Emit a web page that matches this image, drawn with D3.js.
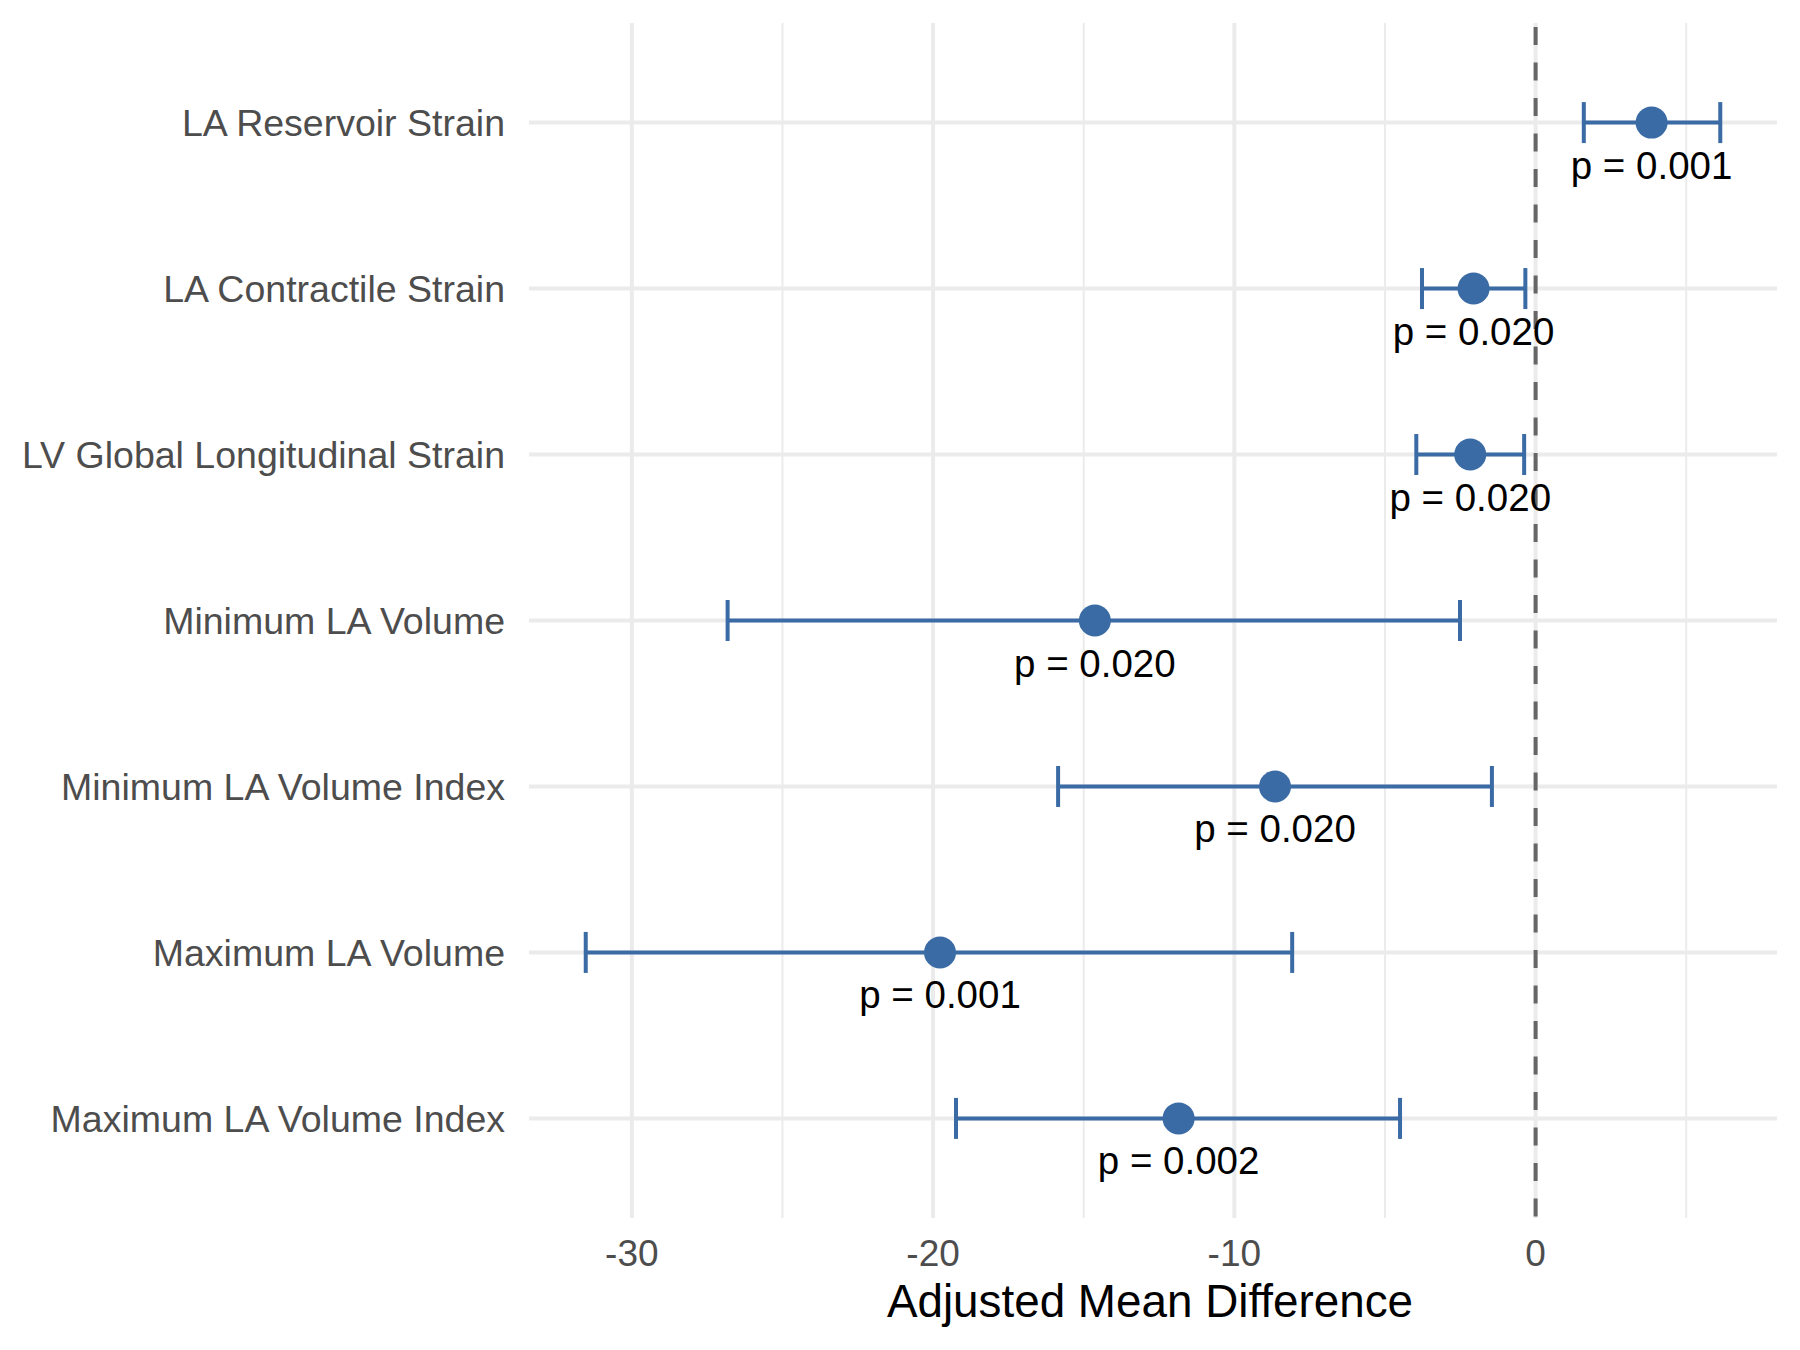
<!DOCTYPE html>
<html>
<head>
<meta charset="utf-8">
<script src="https://cdn.jsdelivr.net/npm/d3@7"></script>
<style>
  body { margin: 0; background: #fff; }
  text { font-family: "Liberation Sans", Arial, sans-serif; }
</style>
</head>
<body>
<svg id="chart" width="1800" height="1350"></svg>
<script>
// Forest plot: adjusted mean differences with 95% CI

// categories, top to bottom
const measures = [
  "LA Reservoir Strain",
  "LA Contractile Strain",
  "LV Global Longitudinal Strain",
  "Minimum LA Volume",
  "Minimum LA Volume Index",
  "Maximum LA Volume",
  "Maximum LA Volume Index"
];
const estimates = [3.85, -2.06, -2.17, -14.63, -8.65, -19.77, -11.85];
const ciLow     = [1.60, -3.77, -3.96, -26.82, -15.85, -31.53, -19.24];
const ciHigh    = [6.13, -0.34, -0.38, -2.51, -1.45, -8.08, -4.50];
const pLabels   = ["p = 0.001", "p = 0.020", "p = 0.020", "p = 0.020", "p = 0.020", "p = 0.001", "p = 0.002"];

const xMajor = [-30, -20, -10, 0];
const xMinor = [-25, -15, -5, 5];

const svg = d3.select("#chart");

// panel box
const panel = { left: 529, right: 1777, top: 23, bottom: 1218 };
const blue = "#3a6ba5";

// x domain like ggplot: data range + 5% each side
const lo = d3.min(ciLow), hi = d3.max(ciHigh);
const pad = (hi - lo) * 0.05;
const x = d3.scaleLinear().domain([lo - pad, hi + pad]).range([panel.left, panel.right]);

// discrete y with 0.6 expansion
const y = d3.scalePoint().domain(measures).range([panel.top, panel.bottom]).padding(0.6);

// minor vertical grid
svg.append("g").selectAll("line").data(xMinor).join("line")
  .attr("x1", d => x(d)).attr("x2", d => x(d))
  .attr("y1", panel.top).attr("y2", panel.bottom)
  .attr("stroke", "#ebebeb").attr("stroke-width", 2);

// major vertical grid
svg.append("g").selectAll("line").data(xMajor).join("line")
  .attr("x1", d => x(d)).attr("x2", d => x(d))
  .attr("y1", panel.top).attr("y2", panel.bottom)
  .attr("stroke", "#ebebeb").attr("stroke-width", 4);

// horizontal grid
svg.append("g").selectAll("line").data(measures).join("line")
  .attr("x1", panel.left).attr("x2", panel.right)
  .attr("y1", d => y(d)).attr("y2", d => y(d))
  .attr("stroke", "#ebebeb").attr("stroke-width", 4);

// reference line at zero
svg.append("line")
  .attr("x1", x(0)).attr("x2", x(0))
  .attr("y1", panel.top).attr("y2", panel.bottom)
  .attr("stroke", "#666666").attr("stroke-width", 4)
  .attr("stroke-dasharray", "18,17.5")
  .attr("stroke-dashoffset", -4);

// error bars
const rows = measures.map((m, i) => ({ m, est: estimates[i], lo: ciLow[i], hi: ciHigh[i], p: pLabels[i] }));
const eb = svg.append("g").attr("stroke", blue).attr("stroke-width", 4);
eb.selectAll(".bar").data(rows).join("line").attr("class", "bar")
  .attr("x1", d => x(d.lo)).attr("x2", d => x(d.hi))
  .attr("y1", d => y(d.m)).attr("y2", d => y(d.m));
eb.selectAll(".capL").data(rows).join("line").attr("class", "capL")
  .attr("x1", d => x(d.lo)).attr("x2", d => x(d.lo))
  .attr("y1", d => y(d.m) - 20.5).attr("y2", d => y(d.m) + 20.5);
eb.selectAll(".capR").data(rows).join("line").attr("class", "capR")
  .attr("x1", d => x(d.hi)).attr("x2", d => x(d.hi))
  .attr("y1", d => y(d.m) - 20.5).attr("y2", d => y(d.m) + 20.5);

// points
svg.append("g").selectAll("circle").data(rows).join("circle")
  .attr("cx", d => x(d.est)).attr("cy", d => y(d.m))
  .attr("r", 16).attr("fill", blue);

// p-value labels
svg.append("g").selectAll("text").data(rows).join("text")
  .attr("x", d => x(d.est)).attr("y", d => y(d.m) + 56)
  .attr("text-anchor", "middle")
  .attr("font-size", 38.5).attr("fill", "#000")
  .text(d => d.p);

// y axis labels
svg.append("g").selectAll("text").data(measures).join("text")
  .attr("x", 505).attr("y", d => y(d))
  .attr("dy", "0.35em")
  .attr("text-anchor", "end")
  .attr("font-size", 37.5).attr("fill", "#4d4d4d")
  .text(d => d);

// x tick labels (plain hyphen minus, like the original)
svg.append("g").selectAll("text").data(xMajor).join("text")
  .attr("x", d => x(d)).attr("y", 1266)
  .attr("text-anchor", "middle")
  .attr("font-size", 37).attr("fill", "#4d4d4d")
  .text(d => String(d));

// axis title
svg.append("text")
  .attr("x", (panel.left + panel.right) / 2 - 3).attr("y", 1317)
  .attr("text-anchor", "middle")
  .attr("font-size", 45.8).attr("fill", "#000")
  .text("Adjusted Mean Difference");
</script>
</body>
</html>
